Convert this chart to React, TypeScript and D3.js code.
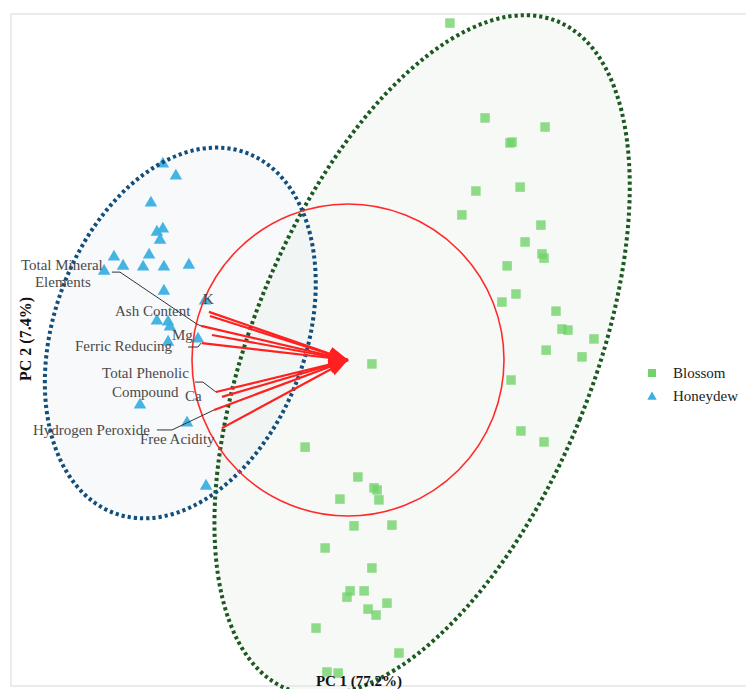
import React from "react";
import * as d3 from "d3";

// PCA scores (PC1, PC2)
const blossomPC1 = [3.92, 5.27, 7.58, 6.23, 6.31, 4.92, 6.62, 4.38, 7.42, 6.81, 7.46, 7.54, 6.12, 6.46, 5.92, 8.0, 8.23, 8.46, 9.46, 7.62, 9.0, 0.92, 6.27, 6.65, 7.54, -1.65, 0.38, 1.0, 1.12, -0.31, 1.19, 0.23, 1.69, -0.88, 0.92, 0.08, -0.04, 0.62, 1.5, 0.77, 1.08, -1.23, 1.96, -0.81, -0.38];
const blossomPC2 = [12.96, 9.31, 8.96, 8.35, 8.38, 6.5, 6.65, 5.58, 5.19, 4.54, 4.08, 3.92, 3.62, 2.54, 2.23, 1.88, 1.19, 1.15, 0.81, 0.38, 0.12, -0.15, -0.77, -2.73, -3.15, -3.35, -4.5, -4.92, -5.0, -5.35, -5.38, -6.38, -6.35, -7.23, -8.0, -8.88, -9.12, -8.88, -9.35, -9.58, -9.81, -10.31, -11.27, -12.0, -12.04];
const honeydewPC1 = [-7.12, -6.62, -7.58, -7.35, -7.12, -7.23, -9.0, -7.65, -8.65, -7.88, -7.08, -6.12, -9.38, -7.08, -5.5, -7.35, -6.92, -6.85, -5.77, -6.92, -8.0, -6.19, -5.46];
const honeydewPC2 = [7.58, 7.12, 6.08, 4.96, 5.08, 4.65, 4.0, 4.08, 3.65, 3.62, 3.62, 3.69, 3.46, 2.69, 2.31, 1.54, 1.5, 1.31, 0.85, 0.73, -1.69, -2.38, -4.81];

// Loadings (scaled)
const variables = ["K", "Ash Content", "Total Mineral Elements", "Mg", "Ferric Reducing", "Total Phenolic Compound", "Ca", "Hydrogen Peroxide", "Free Acidity"];
const loadPC1 = [-5.35, -5.31, -5.65, -5.23, -5.62, -5.08, -4.85, -5.15, -4.85];
const loadPC2 = [1.85, 1.69, 1.31, 0.96, 0.65, -1.23, -1.42, -1.92, -2.62];
const circleRadius = 6;

// Confidence ellipses
const groups = ["Blossom", "Honeydew"];
const ellipseCenterPC1 = [2.85, -6.45];
const ellipseCenterPC2 = [0.19, 1.04];
const ellipseMajor = [13.85, 7.38];
const ellipseMinor = [6.55, 4.85];
const ellipseTilt = [22, 20];

// Variable labels (text lines and anchor positions in score units)
const labelTexts = ["Total Mineral", "Elements", "Ash Content", "K", "Mg", "Ferric Reducing", "Total Phenolic", "Compound", "Ca", "Hydrogen Peroxide", "Free Acidity"];
const labelPC1 = [-12.58, -12.04, -8.96, -5.58, -6.77, -10.5, -9.46, -9.08, -6.27, -12.12, -8.0];
const labelPC2 = [3.46, 2.81, 1.69, 2.15, 0.77, 0.35, -0.69, -1.42, -1.58, -2.88, -3.23];

// Leader lines from labels to loading tips
const leaderPaths: [number, number][][] = [
  [[-9.08, 3.38], [-8.77, 3.38], [-5.81, 1.38], [-5.65, 1.31]],
  [[-6.15, 0.5], [-5.77, 0.5], [-5.65, 0.65]],
  [[-5.88, -0.85], [-5.58, -0.85], [-5.08, -1.23]],
  [[-7.35, -2.69], [-6.77, -2.69], [-5.15, -1.92]],
];

const W = 746;
const H = 689;

const xScale = d3.scaleLinear().domain([-13, 15.5]).range([10, 751]);
const yScale = d3.scaleLinear().domain([-12.5, 13.5]).range([685, 9]);

const SERIF = "'Liberation Serif', 'Times New Roman', serif";
const greenFill = "#72d36a";
const blueFill = "#3cb0e0";
const ellipseStroke = ["#1d5a22", "#124f7c"];
const ellipseFill = ["#e3eae3", "#e4eaee"];

export default function App() {
  const sq = d3.symbol(d3.symbolSquare, 90)() as string;
  const tri = d3.symbol(d3.symbolTriangle, 68)() as string;
  const sqLeg = d3.symbol(d3.symbolSquare, 64)() as string;
  const triLeg = d3.symbol(d3.symbolTriangle, 38)() as string;

  const ox = xScale(0);
  const oy = yScale(0);
  const kx = xScale(1) - xScale(0);
  const ky = yScale(0) - yScale(1);

  const line = d3
    .line<[number, number]>()
    .x((d) => xScale(d[0]))
    .y((d) => yScale(d[1]));

  const arrowHeads = loadPC1.map((lx, i) => {
    const sx = xScale(lx);
    const sy = yScale(loadPC2[i]);
    const dx = ox - sx;
    const dy = oy - sy;
    const len = Math.hypot(dx, dy);
    const ux = dx / len;
    const uy = dy / len;
    const L = 19;
    const hw = 7;
    const bx = ox - ux * L;
    const by = oy - uy * L;
    return `M${ox},${oy}L${bx - uy * hw},${by + ux * hw}L${bx + uy * hw},${by - ux * hw}Z`;
  });

  return (
    <svg
      width={W}
      height={H}
      style={{ position: "absolute", left: 0, top: 0, background: "#fff" }}
    >
      <rect x={11} y={14} width={740} height={672} fill="#fff" stroke="#ebebeb" strokeWidth={2} />

      {/* ellipse fills */}
      {groups.map((g, i) => {
        const cx = xScale(ellipseCenterPC1[i]);
        const cy = yScale(ellipseCenterPC2[i]);
        return (
          <ellipse
            key={"f" + g}
            cx={cx}
            cy={cy}
            rx={ellipseMinor[i] * kx}
            ry={ellipseMajor[i] * ky}
            transform={`rotate(${ellipseTilt[i]},${cx},${cy})`}
            fill={ellipseFill[i]}
            fillOpacity={0.3}
          />
        );
      })}

      {/* points */}
      {blossomPC1.map((v, i) => (
        <path
          key={"b" + i}
          d={sq}
          transform={`translate(${xScale(v)},${yScale(blossomPC2[i])})`}
          fill={greenFill}
          fillOpacity={0.8}
        />
      ))}
      {honeydewPC1.map((v, i) => (
        <path
          key={"h" + i}
          d={tri}
          transform={`translate(${xScale(v)},${yScale(honeydewPC2[i]) + 1})`}
          fill={blueFill}
          fillOpacity={0.95}
        />
      ))}

      {/* ellipse outlines */}
      {groups.map((g, i) => {
        const cx = xScale(ellipseCenterPC1[i]);
        const cy = yScale(ellipseCenterPC2[i]);
        return (
          <ellipse
            key={"s" + g}
            cx={cx}
            cy={cy}
            rx={ellipseMinor[i] * kx}
            ry={ellipseMajor[i] * ky}
            transform={`rotate(${ellipseTilt[i]},${cx},${cy})`}
            fill="none"
            stroke={ellipseStroke[i]}
            strokeWidth={4}
            strokeDasharray="3.2 3"
          />
        );
      })}

      {/* correlation circle */}
      <ellipse cx={ox} cy={oy} rx={circleRadius * kx} ry={circleRadius * ky} fill="none" stroke="#ff2b2b" strokeWidth={1.6} />

      {/* loading vectors */}
      {loadPC1.map((lx, i) => (
        <line
          key={"l" + i}
          x1={xScale(lx)}
          y1={yScale(loadPC2[i])}
          x2={ox}
          y2={oy}
          stroke="#ff2020"
          strokeWidth={2.2}
        />
      ))}
      {arrowHeads.map((d, i) => (
        <path key={"a" + i} d={d} fill="#ff2020" />
      ))}

      {/* leader lines */}
      {leaderPaths.map((p, i) => (
        <path key={"ld" + i} d={line(p) as string} fill="none" stroke="#333" strokeWidth={1} />
      ))}

      {/* variable labels */}
      {labelTexts.map((t, i) => (
        <text
          key={"t" + i}
          x={xScale(labelPC1[i])}
          y={yScale(labelPC2[i])}
          fontFamily={SERIF}
          fontSize={15}
          fill="#4a4a4a"
        >
          {t}
        </text>
      ))}

      {/* axis titles */}
      <text
        x={0}
        y={0}
        transform={`translate(31,339) rotate(-90)`}
        textAnchor="middle"
        fontFamily={SERIF}
        fontSize={16}
        fontWeight="bold"
        fill="#111"
      >
        PC 2 (7.4%)
      </text>
      <text x={359} y={686} textAnchor="middle" fontFamily={SERIF} fontSize={15} fontWeight="bold" fill="#111">
        PC 1 (77.2%)
      </text>

      {/* legend */}
      <path d={sqLeg} transform="translate(652,373)" fill={greenFill} />
      <text x={673} y={378} fontFamily={SERIF} fontSize={15} fill="#222">
        {groups[0]}
      </text>
      <path d={triLeg} transform="translate(652,397)" fill={blueFill} />
      <text x={673} y={401} fontFamily={SERIF} fontSize={15} fill="#222">
        {groups[1]}
      </text>
    </svg>
  );
}
